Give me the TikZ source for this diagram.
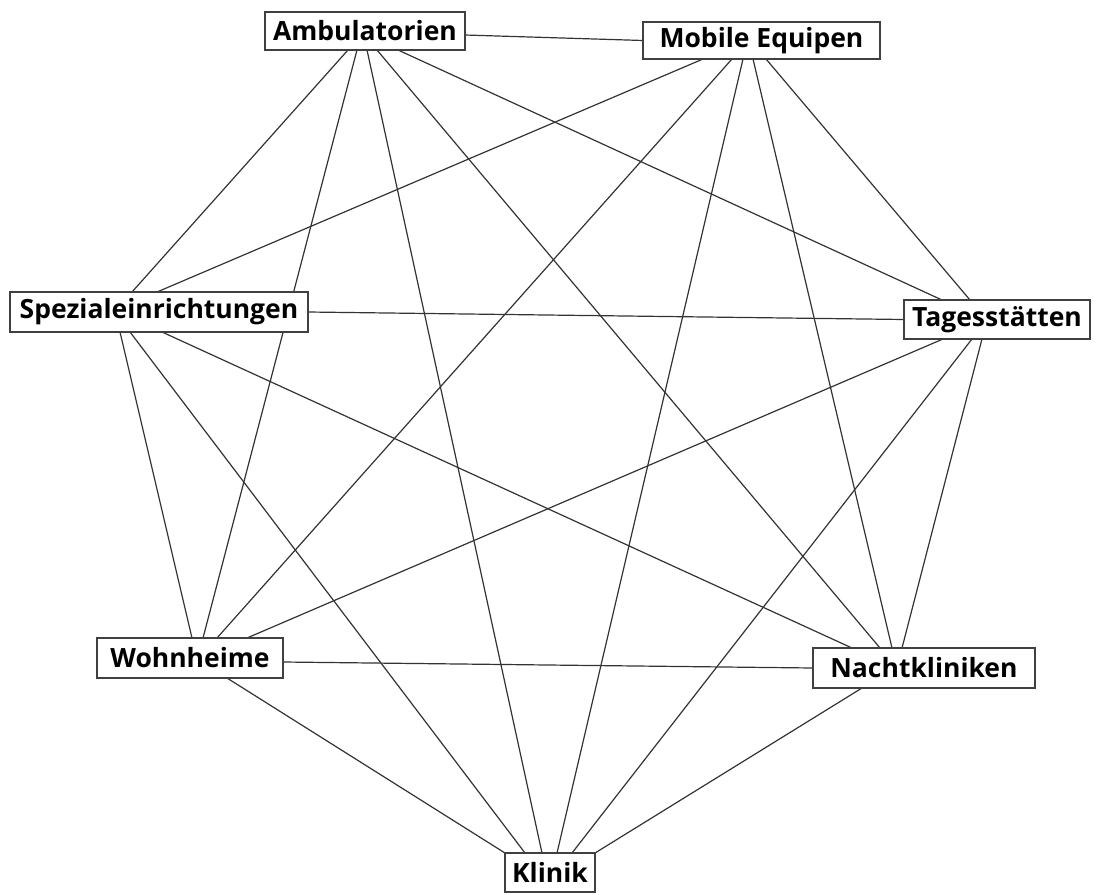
\documentclass[tikz,border=0pt]{standalone}
\usepackage{fontspec}
\setmainfont{Open Sans}
\usetikzlibrary{backgrounds}
\begin{document}
\begin{tikzpicture}[x=1pt,y=-1pt,
  box/.style={draw=black!75, line width=1.1pt, fill=white, inner sep=0pt, outer sep=0pt,
    font=\fontsize{26.5}{30}\selectfont\bfseries, text=black},
  link/.style={draw=black!80, line width=1.2pt}]
\useasboundingbox (0,0) rectangle (1100,894);
\node[box, minimum width=200pt, minimum height=38pt] (amb) at (365,31) {Ambulatorien};
\node[box, minimum width=237pt, minimum height=37pt] (me) at (761.5,40.5) {Mobile Equipen};
\node[box, minimum width=298pt, minimum height=40pt] (spez) at (159,312) {Spezialeinrichtungen};
\node[box, minimum width=186pt, minimum height=39pt] (tages) at (997,319.5) {Tagesstätten};
\node[box, minimum width=186pt, minimum height=40pt] (wohn) at (190,658) {Wohnheime};
\node[box, minimum width=222pt, minimum height=40pt] (nacht) at (924,668) {Nachtkliniken};
\node[box, minimum width=90pt, minimum height=39pt] (klinik) at (550,872.5) {Klinik};
\begin{scope}[on background layer]
\draw[link] ([yshift=-4pt]amb.east) -- (me.west);
\draw[link] ([xshift=83pt]amb.south west) -- ([xshift=122pt]spez.north west);
\draw[link] ([xshift=92pt]amb.south west) -- ([xshift=106pt]wohn.north west);
\draw[link] ([xshift=102pt]amb.south west) -- ([xshift=37pt]klinik.north west);
\draw[link] ([xshift=112pt]amb.south west) -- ([xshift=67pt]nacht.north west);
\draw[link] ([xshift=133pt]amb.south west) -- ([xshift=38pt]tages.north west);
\draw[link] ([xshift=60pt]me.south west) -- ([xshift=147pt]spez.north west);
\draw[link] ([xshift=89pt]me.south west) -- ([xshift=120pt]wohn.north west);
\draw[link] ([xshift=100pt]me.south west) -- ([xshift=52pt]klinik.north west);
\draw[link] ([xshift=110pt]me.south west) -- ([xshift=79pt]nacht.north west);
\draw[link] ([xshift=123pt]me.south west) -- ([xshift=66pt]tages.north west);
\draw[link] (spez.east) -- (tages.west);
\draw[link] ([xshift=110pt]spez.south west) -- ([xshift=95pt]wohn.north west);
\draw[link] ([xshift=120pt]spez.south west) -- ([xshift=20pt]klinik.north west);
\draw[link] ([xshift=152pt]spez.south west) -- ([xshift=39pt]nacht.north west);
\draw[link] ([xshift=39pt]tages.south west) -- ([xshift=150pt]wohn.north west);
\draw[link] ([xshift=68pt]tages.south west) -- ([xshift=67pt]klinik.north west);
\draw[link] ([xshift=78pt]tages.south west) -- ([xshift=89pt]nacht.north west);
\draw[link] ([yshift=-4pt]wohn.east) -- (nacht.west);
\draw[link] ([xshift=130pt]wohn.south west) -- (klinik.north west);
\draw[link] ([xshift=49pt]nacht.south west) -- (klinik.north east);
\end{scope}
\end{tikzpicture}
\end{document}
